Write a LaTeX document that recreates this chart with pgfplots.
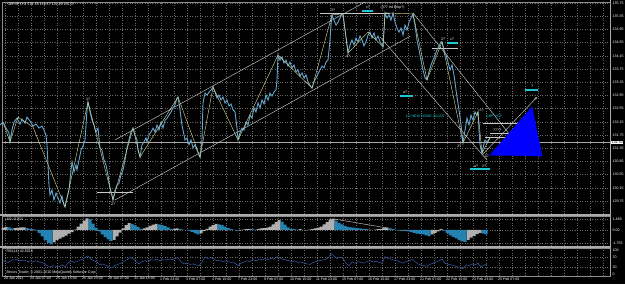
\documentclass[border=0pt]{standalone}
\usepackage{pgfplots}
\pgfplotsset{compat=1.18}
\usepackage{fontspec}
\setmainfont{Liberation Sans}
\usetikzlibrary{arrows.meta}
\definecolor{gridc}{RGB}{105,105,105}
\definecolor{pricec}{RGB}{100,165,205}
\definecolor{zigc}{RGB}{205,205,140}
\definecolor{chanc}{RGB}{200,200,200}
\definecolor{cyanbar}{RGB}{30,200,210}
\definecolor{aoblue}{RGB}{35,130,175}
\definecolor{aogray}{RGB}{175,175,175}
\definecolor{rsic}{RGB}{55,95,170}
\definecolor{framec}{RGB}{140,140,140}
\definecolor{sepc}{RGB}{170,170,170}
\newcommand{\tf}{\fontsize{3.6}{4}\selectfont}

\pgfplotsset{
  mtaxis/.style={
    scale only axis, width=608bp, anchor=south west,
    xmin=2, xmax=610,
    axis line style={draw=framec, line width=0.5bp},
    tick style={draw=none},
    grid style={gridc, dash pattern=on 1bp off 1.5bp, line width=0.4bp},
    minor grid style={gridc, dash pattern=on 1bp off 1.5bp, line width=0.4bp},
    xmajorgrids, ymajorgrids,
    yticklabel pos=right,
    yticklabel style={font=\tf, text=white, anchor=west, xshift=-1bp,
      /pgf/number format/.cd, fixed, fixed zerofill, precision=2, assume math mode=true},
    clip=false,
  }
}

\begin{document}
\begin{tikzpicture}[x=1bp,y=1bp]
\fill[black] (0,0) rectangle (625,284);

% ---------------- main price panel ----------------
\begin{axis}[mtaxis, at={(2bp,70bp)}, height=212bp,
  ymin=129.355, ymax=135.78,
  xtick={5,18,...,603}, xticklabels={},
  ytick={129.75,130.15,130.55,130.95,131.35,131.75,132.15,132.55,132.95,133.35,133.75,134.15,134.55,134.95,135.35,135.75},
]
% bid line
\addplot[sepc, line width=0.5bp] coordinates {(2,131.52) (610,131.52)};
% channels and trend lines
\addplot[chanc, line width=0.45bp] coordinates {(115,131.60) (365,135.78)};
\addplot[chanc, line width=0.45bp] coordinates {(115,129.78) (410,134.74)};
\addplot[chanc, line width=0.45bp] coordinates {(380,134.72) (487,130.99)};
\addplot[chanc, line width=0.45bp] coordinates {(413,135.45) (510,131.75)};
\addplot[chanc, line width=0.45bp, -{Stealth[length=3bp,width=2.5bp]}] coordinates {(482,131.14) (537,132.90)};
% horizontal levels
\addplot[chanc, line width=0.45bp] coordinates {(320,135.45) (390,135.45)};
\addplot[chanc, line width=0.45bp] coordinates {(97,130.02) (133,130.02)};
\addplot[chanc, line width=0.45bp] coordinates {(432,134.39) (458,134.39)};
\addplot[chanc, line width=0.45bp] coordinates {(483,132.11) (518,132.11)};
\addplot[chanc, line width=0.45bp] coordinates {(490,131.81) (510,131.81)};
\addplot[chanc, line width=0.45bp] coordinates {(485,131.69) (510,131.69)};
% target triangle
\addplot[fill=blue, draw=blue] coordinates {(490,131.14) (532,132.60) (542,131.11)} -- cycle;
% price
\addplot[pricec, line width=0.9bp] table {
x y
0 132.05
3 132.14
6 131.96
9 131.81
10 131.54
12 131.90
14 132.14
17 132.26
20 132.08
22 132.23
25 132.11
27 132.29
30 132.17
33 132.02
36 132.08
39 131.96
42 132.02
44 131.90
46 131.75
47 131.45
48 130.84
49 130.23
50 129.93
52 130.08
54 129.78
56 129.99
58 129.84
60 129.69
62 129.90
64 129.63
65 129.57
67 129.84
69 130.08
71 130.69
72 130.93
74 130.63
76 130.84
77 130.69
79 130.99
81 131.29
83 131.42
85 131.60
86 132.05
87 132.51
88 132.75
90 132.45
92 132.20
94 132.05
96 131.84
98 131.96
100 131.36
102 131.29
104 130.99
106 130.84
108 130.54
110 130.14
112 129.93
113 129.78
115 130.08
117 130.23
119 130.29
121 130.54
123 130.69
125 130.99
127 131.36
129 131.60
131 131.84
133 131.96
135 131.75
137 131.60
138 131.29
140 131.08
142 131.45
144 131.54
146 131.66
147 131.54
149 131.75
151 131.84
153 131.96
155 131.84
157 132.05
159 131.90
161 132.14
163 131.96
165 132.20
167 132.26
169 132.35
171 132.45
173 132.57
175 132.66
177 132.87
178 132.90
180 132.51
182 132.05
184 131.75
185 131.60
187 131.66
189 131.45
191 131.60
193 131.36
195 131.45
197 131.29
199 131.14
200 131.08
202 131.60
203 132.72
205 133.02
207 132.96
209 133.05
211 133.11
213 133.20
215 133.05
217 132.87
219 132.96
221 132.81
223 132.90
225 132.72
227 132.81
229 132.63
231 132.69
233 132.51
235 132.45
237 131.96
238 131.60
240 131.81
242 131.96
244 131.90
246 132.14
248 132.05
250 132.35
252 132.26
254 132.57
256 132.45
258 132.72
260 132.57
262 132.81
264 132.69
266 132.96
268 132.81
270 133.02
272 132.93
274 133.05
276 133.11
277 133.42
278 134.17
280 134.02
282 134.11
284 133.93
286 134.02
288 133.84
290 133.96
292 133.78
294 133.87
296 133.66
298 133.72
300 133.54
302 133.63
304 133.48
306 133.57
308 133.36
310 133.26
312 133.17
314 133.36
316 133.48
318 133.60
320 133.72
322 133.84
324 133.78
326 133.96
328 134.02
330 134.63
331 135.08
332 135.39
334 135.23
336 135.08
338 135.17
340 135.29
342 135.42
343 135.39
345 134.93
347 134.48
348 134.23
350 134.48
352 134.63
354 134.48
356 134.69
358 134.57
360 134.75
362 134.63
364 134.45
366 134.57
368 134.78
370 134.87
372 134.69
374 134.84
376 134.63
378 134.75
380 134.57
382 134.48
383 134.42
384 134.93
385 135.45
387 135.29
389 135.39
391 135.23
393 135.45
395 135.17
397 134.99
399 134.87
401 134.99
403 134.78
405 135.08
407 134.93
409 135.17
411 135.29
413 135.42
415 135.08
417 134.63
419 134.33
421 134.02
423 133.72
425 133.48
427 133.42
429 133.66
431 133.87
433 134.02
435 134.17
437 134.33
439 134.45
441 134.57
442 134.57
444 134.33
446 134.17
448 133.96
450 133.72
452 133.87
454 133.57
456 133.11
457 132.90
459 132.51
461 132.05
463 131.51
465 131.90
467 132.26
469 132.05
471 132.35
473 132.20
475 132.45
477 132.35
478 132.45
479 131.90
480 131.45
482 131.20
483 131.36
485 131.60
487 131.54
490 131.66
};
% zigzag
\addplot[zigc, line width=0.45bp] table {
x y
3 132.14
10 131.54
18 132.29
33 131.99
65 129.57
88 132.75
113 129.78
133 131.96
140 131.08
178 132.90
200 131.08
213 133.20
238 131.60
278 134.17
312 133.17
332 135.39
343 135.42
348 134.23
368 134.87
383 134.42
385 135.45
413 135.42
427 133.42
442 134.57
463 131.51
478 132.45
482 131.20
490 131.66
};
% cyan level bars
\addplot[cyanbar, line width=2.2bp] coordinates {(362,135.51) (373,135.51)};
\addplot[cyanbar, line width=2.2bp] coordinates {(447,134.54) (458,134.54)};
\addplot[cyanbar, line width=2.2bp] coordinates {(400,132.93) (413,132.93)};
\addplot[cyanbar, line width=2.2bp] coordinates {(525,133.11) (538,133.11)};
\addplot[cyanbar, line width=2.2bp] coordinates {(470,130.72) (490,130.72)};
% annotations
\node[font=\tf, text=white, anchor=west] at (axis cs:4,135.70) {GBPJPY,H1 131.53 131.67 131.49 131.57};
\node[font=\tf, text=white, anchor=south, inner sep=0.5bp] at (axis cs:88,132.78) {1?};
\node[font=\tf, text=white, anchor=north, inner sep=0.5bp] at (axis cs:113,129.72) {2?};
\node[font=\tf, text=white, anchor=south, inner sep=0.5bp] at (axis cs:333,135.47) {3?};
\node[font=\tf, text=white, anchor=north, inner sep=0.5bp] at (axis cs:348,134.18) {4?};
\node[font=\tf, text=white, anchor=south, inner sep=0.5bp] at (axis cs:368,135.56) {c?};
\node[font=\tf, text=white, anchor=west, inner sep=0.5bp] at (axis cs:380,135.62) {(3?7 trd Brkp?)};
\node[font=\tf, text=white, anchor=south, inner sep=0.5bp] at (axis cs:443,134.60) {2?};
\node[font=\tf, text=white, anchor=south, inner sep=0.5bp] at (axis cs:452,134.60) {c?};
\node[font=\tf, text=white, anchor=south, inner sep=0.5bp] at (axis cs:405,132.98) {a?};
\node[font=\tf, text=white, anchor=south, inner sep=0.5bp] at (axis cs:532,133.16) {?};
\node[font=\tf, text=white, anchor=east, inner sep=0.5bp] at (axis cs:462,131.42) {2?};
\node[font=\tf, text=white, anchor=west, inner sep=0.5bp] at (axis cs:479,132.50) {c?};
\node[font=\tf, text=white, anchor=west, inner sep=0.5bp] at (axis cs:484,131.10) {2?};
\node[font=\tf, text=white, anchor=north, inner sep=0.5bp] at (axis cs:476,130.86) {a?};
\node[font=\tf, text=white, anchor=north, inner sep=0.5bp] at (axis cs:484,130.86) {2?};
\node[font=\tf, text=white, anchor=south, inner sep=0.5bp] at (axis cs:497,131.83) {????};
\node[font=\tf, text=cyanbar] at (axis cs:425,132.32) {1/2 NEW HOME SALES};
\node[font=\tf, text=cyanbar] at (axis cs:494,132.32) {GBP VCP};
\node[font=\tf, text=black, fill=white, anchor=west, inner sep=0.6bp] at (axis cs:611,131.52) {131.52};
\end{axis}

% ---------------- AO panel ----------------
\begin{axis}[mtaxis, at={(2bp,38bp)}, height=30bp,
  ymin=-2.13, ymax=1.86,
  xtick={5,18,...,603}, xticklabels={},
  ytick={-1.755,0,1.489}, yticklabels={-1.755,0.00,1.489},
  ybar, bar width=3bp, bar shift=0pt,
]
\addplot[draw=none, fill=aogray] table {
x y
3 0.30
6 0.40
15 0.25
18 0.30
21 0.35
24 0.35
54 -1.65
57 -1.35
60 -1.15
63 -0.95
66 -0.75
69 -0.50
72 -0.30
75 0.05
78 0.45
81 0.85
84 1.25
87 1.55
114 -1.30
117 -0.85
120 -0.35
123 0.20
126 0.65
129 0.90
144 0.20
147 0.35
150 0.55
153 0.70
156 0.80
174 0.15
177 0.20
201 -0.45
204 -0.15
207 0.15
210 0.45
213 0.65
216 0.80
240 -0.05
243 0.05
246 0.10
249 0.15
258 0.10
261 0.20
264 0.25
267 0.30
270 0.45
273 0.75
276 1.05
279 1.30
300 0.10
309 0.05
312 0.10
315 0.20
318 0.30
321 0.45
324 0.75
327 1.05
330 1.40
333 1.50
375 0.05
378 0.10
381 0.15
384 0.25
387 0.30
405 -0.10
432 -0.60
435 -0.40
438 -0.20
441 0.10
468 -1.30
471 -1.00
474 -0.80
477 -0.55
480 -0.40
};
\addplot[draw=none, fill=aoblue] table {
x y
9 0.35
12 0.20
27 0.25
30 0.15
33 0.10
36 -0.05
39 -0.40
42 -0.85
45 -1.30
48 -1.70
51 -1.90
90 1.45
93 0.85
96 0.30
99 -0.20
102 -0.60
105 -0.95
108 -1.25
111 -1.45
132 0.80
135 0.60
138 0.40
141 0.15
159 0.75
162 0.65
165 0.50
168 0.35
171 0.15
180 0.15
183 0.05
186 0.00
189 -0.10
192 -0.25
195 -0.45
198 -0.60
219 0.75
222 0.65
225 0.45
228 0.25
231 0.10
234 0.00
237 -0.10
252 0.10
255 0.05
282 1.10
285 0.70
288 0.35
291 0.15
294 0.10
297 0.05
303 0.00
306 -0.05
336 1.25
339 0.95
342 0.75
345 0.55
348 0.40
351 0.35
354 0.30
357 0.25
360 0.20
363 0.15
366 0.10
369 0.05
372 0.00
390 0.20
393 0.10
396 0.00
399 -0.10
402 -0.15
408 -0.20
411 -0.30
414 -0.40
417 -0.50
420 -0.55
423 -0.60
426 -0.70
429 -0.80
444 -0.10
447 -0.40
450 -0.70
453 -0.90
456 -1.10
459 -1.30
462 -1.50
465 -1.60
483 -0.50
486 -0.60
};
\addplot[sharp plot, chanc, line width=0.45bp] coordinates {(334,1.46) (387,0.27)};
\node[font=\tf, text=white, anchor=west] at (axis cs:3,1.45) {AO -0.374};
\end{axis}

% ---------------- RSI panel ----------------
\begin{axis}[mtaxis, at={(2bp,8bp)}, height=28bp,
  ymin=-8.33, ymax=108.33,
  xtick={5,31,...,499},
  minor xtick={18,44,...,590},
  xminorgrids,
  extra x ticks={525,551,577,603}, extra x tick labels={},
  extra x tick style={grid=major},
  xticklabels={20 Jan 2011,24 Jan 07:00,25 Jan 15:00,26 Jan 23:00,28 Jan 07:00,31 Jan 15:00,1 Feb 23:00,3 Feb 07:00,4 Feb 15:00,7 Feb 23:00,9 Feb 07:00,10 Feb 15:00,11 Feb 23:00,15 Feb 07:00,16 Feb 15:00,17 Feb 23:00,21 Feb 07:00,22 Feb 15:00,23 Feb 23:00,25 Feb 07:00},
  xticklabel style={font=\tf, text=white, anchor=north west, inner sep=0pt, yshift=-1.2bp, xshift=-1bp},
  ytick={30,70},
  extra y ticks={0,100}, extra y tick style={grid=none},
  yticklabel style={/pgf/number format/precision=0, /pgf/number format/fixed zerofill=false},
]
\addplot[rsic, line width=0.5bp] table {
x y
3 55
8 48
12 58
16 60
20 55
24 58
28 52
32 50
36 55
40 50
44 45
47 35
50 28
53 35
56 32
59 30
62 38
65 30
68 45
71 55
74 48
77 52
80 58
83 62
86 72
88 75
91 62
94 55
97 50
100 38
103 42
106 35
109 30
112 25
115 35
118 40
121 45
124 52
127 60
130 68
133 65
136 50
139 42
142 52
145 55
148 50
151 60
154 58
157 62
160 55
163 60
166 58
169 62
172 60
175 65
178 68
181 50
184 42
187 45
190 40
193 42
196 38
199 35
202 50
205 70
208 65
211 68
214 62
217 55
220 58
223 52
226 55
229 50
232 48
235 45
238 35
241 45
244 50
247 55
250 52
253 60
256 55
259 62
262 58
265 64
268 60
271 65
274 62
277 72
280 68
283 62
286 58
289 55
292 50
295 55
298 48
301 50
304 45
307 42
310 40
313 48
316 52
319 55
322 58
325 60
328 65
331 85
334 75
337 65
340 70
343 66
346 45
349 35
352 50
355 45
358 52
361 48
364 45
367 52
370 55
373 50
376 53
379 48
382 45
385 72
388 65
391 62
394 58
397 55
400 50
403 45
406 52
409 55
412 60
415 52
418 42
421 38
424 35
427 32
430 40
433 45
436 50
439 55
442 62
445 45
448 40
451 38
454 35
457 30
460 28
463 22
466 38
469 35
472 42
475 38
478 45
481 30
484 38
487 40
};
\node[font=\tf, text=white, anchor=west] at (axis cs:3,95) {RSI(14) 42.5018};
\node[font=\tf, text=white, anchor=west] at (axis cs:3,6) {Binocs Trader, \textcopyright{} 2001-2010 MetaQuotes Software Corp.};
\end{axis}

% panel separators
\draw[sepc, line width=1.6bp] (0,69) -- (611,69);
\draw[sepc, line width=1.6bp] (0,37) -- (611,37);
\draw[sepc, line width=0.6bp] (610,8) -- (610,284);

\pgfresetboundingbox
\useasboundingbox (0,0) rectangle (625,284);
\end{tikzpicture}
\end{document}
